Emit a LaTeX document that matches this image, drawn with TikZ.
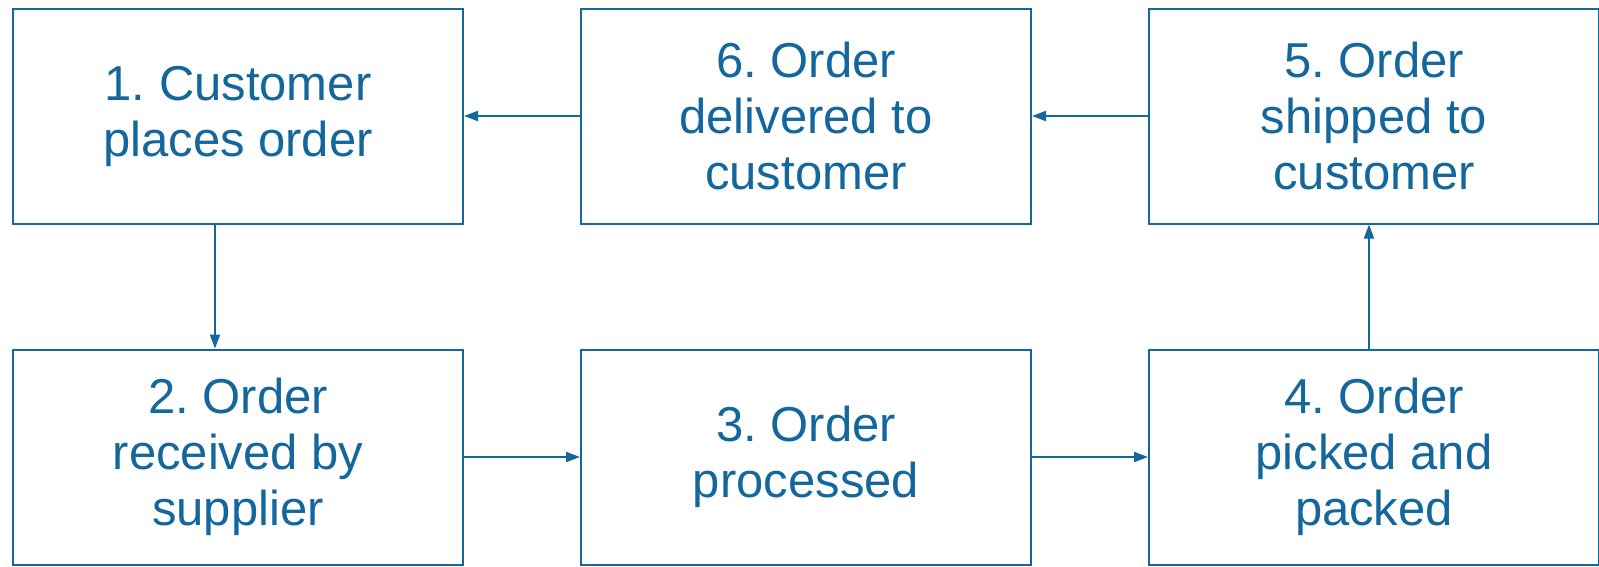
\documentclass[tikz,border=0pt]{standalone}
\usepackage{fontspec}
\setmainfont{Liberation Sans}
\usepackage{tikz}
\usetikzlibrary{arrows.meta,positioning}
\definecolor{flowblue}{HTML}{14679C}
\frenchspacing
\tikzset{
  >={Triangle[length=14pt,width=10pt]},
  every node/.style={text=flowblue},
  stepbox/.style={draw=flowblue,line width=2pt,fill=white,align=center,minimum width=450pt,minimum height=215pt,inner sep=0pt,font=\fontsize{49}{56}\selectfont},
  arrow/.style={->,line width=2pt,draw=flowblue}
}
\begin{document}
\begin{tikzpicture}[x=1pt,y=1pt,node distance=124pt and 116pt]
  \useasboundingbox (0,0) rectangle (1599,-566);
  \node[stepbox] (place) at (238,-116) {1. Customer\\places order};
  \node[stepbox,right=of place] (deliver) {6. Order\\delivered to\\customer};
  \node[stepbox,right=of deliver] (ship) {5. Order\\shipped to\\customer};
  \node[stepbox,below=of place] (receive) {2. Order\\received by\\supplier};
  \node[stepbox,right=of receive] (process) {3. Order\\processed};
  \node[stepbox,right=of process] (pick) {4. Order\\picked and\\packed};

  \draw[arrow] ([xshift=-23pt]place.south) -- ([xshift=-23pt]receive.north);
  \draw[arrow] (receive) -- (process);
  \draw[arrow] (process) -- (pick);
  \draw[arrow] ([xshift=-5pt]pick.north) -- ([xshift=-5pt]ship.south);
  \draw[arrow] (ship) -- (deliver);
  \draw[arrow] (deliver) -- (place);
\end{tikzpicture}
\end{document}
